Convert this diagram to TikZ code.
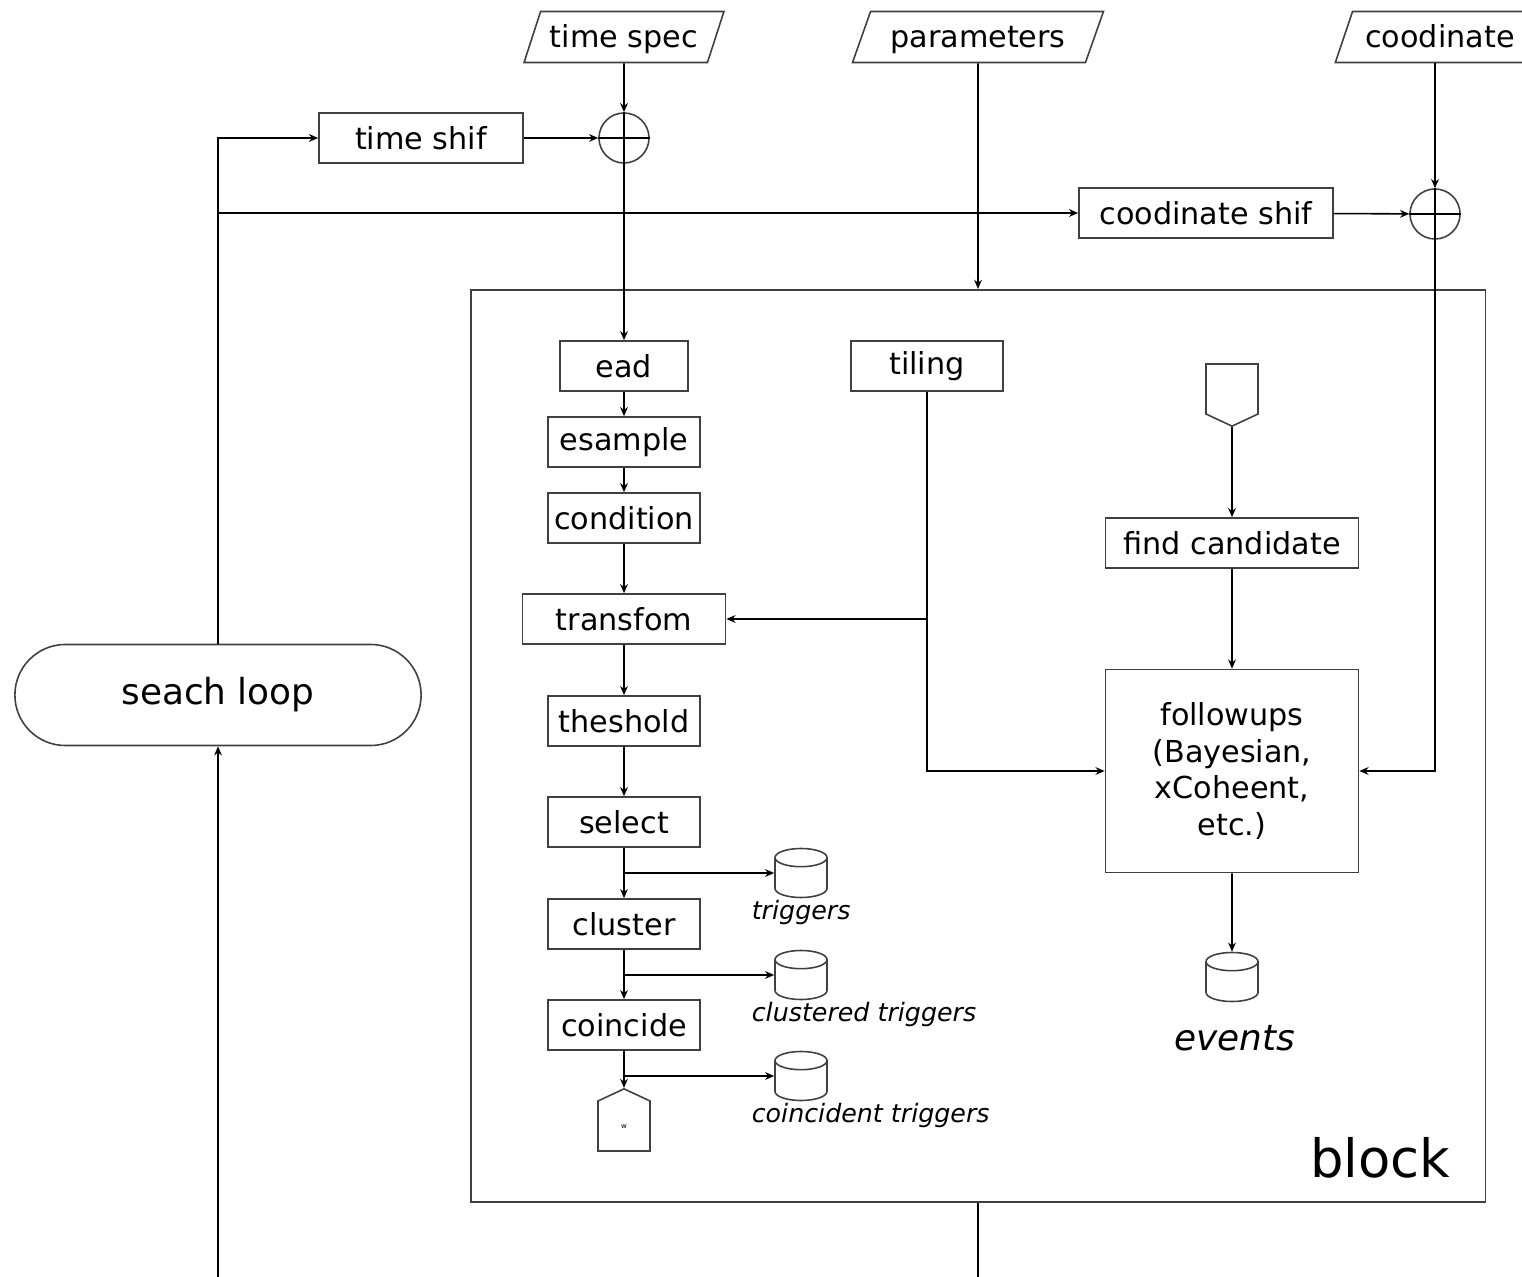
\documentclass[tikz,border=0pt]{standalone}
\usepackage{fontspec}
\setmainfont{DejaVu Sans}
\usetikzlibrary{arrows.meta,shapes.geometric,shapes.misc,shapes.symbols}

\begin{document}
\begin{tikzpicture}[x=0.01cm,y=-0.01cm,line width=0.45pt,
    every node/.style={font=\fontsize{8.6}{10.5}\selectfont,inner sep=0pt},
    box/.style={draw=black!75,rectangle,minimum width=1.52cm,minimum height=0.5cm},
    io/.style={draw=black!75,trapezium,trapezium left angle=70,trapezium right angle=110,
        trapezium stretches=true,minimum width=2cm,minimum height=0.51cm,
        text height=1.6ex,text depth=0.5ex},
    sum/.style={draw=black!75,circle,minimum size=0.5cm},
    store/.style={draw=black!75,cylinder,shape border rotate=90,aspect=0.35,
        inner xsep=0.26cm,inner ysep=0.15cm,anchor=shape center},
    term/.style={draw=black!75,signal,signal pointer angle=130,minimum width=0.52cm,minimum height=0.5cm},
    lbl/.style={font=\itshape\fontsize{7.2}{9}\selectfont},
    flow/.style={-{Stealth[length=2.6pt,width=2.2pt]}}]
        \useasboundingbox (0,0) rectangle (1522,1277);

        % inputs and shifts
        \node[io] (tspec) at (624,37) {time spec};
        \node[io,minimum width=2.52cm] (param) at (978,37) {parameters};
        \node[io,minimum width=2.1cm] (cspec) at (1440,37) {coodinate};
        \node[box,minimum width=2.04cm] (tshift) at (421,138) {time shif};
        \node[sum] (tsum) at (624,138) {};
        \node[box,minimum width=2.54cm] (cshift) at (1206,213) {coodinate shif};
        \node[sum] (csum) at (1435,214) {};
        \draw (tsum.north) -- (tsum.south) (tsum.west) -- (tsum.east);
        \draw (csum.north) -- (csum.south) (csum.west) -- (csum.east);
        \node[draw=black!75,rounded rectangle,minimum width=4.06cm,minimum height=1.01cm,
            font=\fontsize{10.2}{12}\selectfont] (loop) at (218,695) {seach loop};

        % the block
        \node[draw=black!75,minimum width=10.14cm,minimum height=9.12cm] (block) at (978,746) {};
        \node[font=\fontsize{15}{18}\selectfont] (blabel) at (1380,1158) {block};

        \foreach \n/\t/\y/\w in {read/ead/366/1.28,resample/esample/442/1.52,
            cond/condition/518/1.52,trans/transfom/619/2.03,thresh/theshold/721/1.52,
            select/select/822/1.52,cluster/cluster/924/1.52,coinc/coincide/1025/1.52}
        \node[box,minimum width=\w cm] (\n) at (624,\y) {\t};
        \node[term,signal to=north] (out) at (624,1126) {};
        \node[font=\fontsize{2}{2}\selectfont] at (624,1127) {w};
        \foreach \a/\b in {read/resample,resample/cond,cond/trans,trans/thresh,
            thresh/select,select/cluster,cluster/coinc,coinc/out}
        \draw[flow] (\a) -- (\b);

        \node[store] (trig) at (801,873) {};
        \node[store] (ctrig) at (801,975) {};
        \node[store] (xtrig) at (801,1076) {};
        \node[lbl,anchor=west] (trigl) at (751,913) {triggers};
        \node[lbl,anchor=west] (ctrigl) at (751,1015) {clustered triggers};
        \node[lbl,anchor=west] (xtrigl) at (751,1116) {coincident triggers};
        \foreach \a/\b in {select/trig,cluster/ctrig,coinc/xtrig}
        \draw[flow] (\a.south |- \b.shape center) -- (\b.west |- \b.shape center);

        \node[box] (tiling) at (927,366) {tiling};
        \node[term,signal to=south] (candin) at (1232,389) {};
        \node[box,minimum width=2.53cm] (cand) at (1232,543) {find candidate};
        \node[box,minimum width=2.53cm,minimum height=2.03cm,align=center] (follow) at (1232,771)
            {followups\\(Bayesian,\\xCoheent,\\etc.)};
        \node[store] (events) at (1232,977) {};
        \node[font=\itshape\fontsize{10.2}{12}\selectfont] (eventsl) at (1235,1038) {events};

        % connectors
        \draw[flow] (tspec) -- (tsum);
        \draw[flow] (tshift) -- (tsum);
        \draw[flow] (tsum) -- (read);
        \draw[flow] (param) -- (param |- block.north);
        \draw[flow] (cspec.south -| csum) -- (csum);
        \draw[flow] (cshift) -- (csum);
        \draw[flow] (csum) |- (follow.east);
        \draw[flow] (loop.north) |- (tshift.west);
        \draw[flow] (loop.north |- cshift.west) -- (cshift.west);
        \coordinate (loopin) at (218,1277);
        \coordinate (blockout) at (978,1277);
        \draw[flow] (loopin) -- (loop.south);
        \draw (block.south) -- (blockout);
        \draw[flow] (tiling) |- (follow.west);
        \draw[flow] (tiling.south |- trans.east) -- (trans.east);
        \draw[flow] (candin) -- (cand);
        \draw[flow] (cand) -- (follow);
        \draw[flow] (follow) -- (events.north);
    \end{tikzpicture}
\end{document}
